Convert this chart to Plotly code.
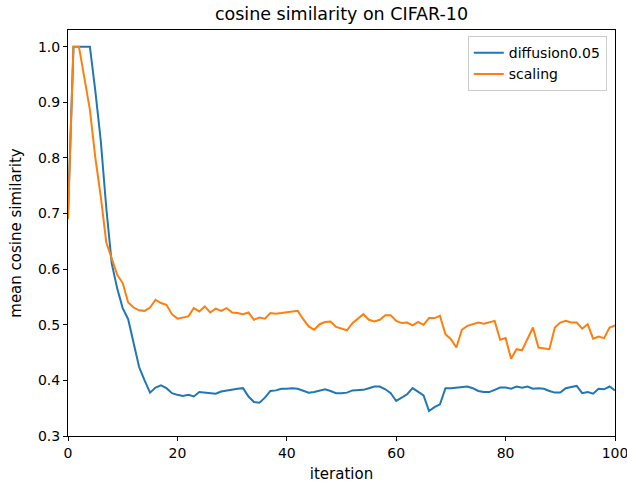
import plotly.graph_objects as go

iterations = list(range(101))

diffusion = [
    0.70, 1.0, 1.0, 1.0, 1.0, 0.92, 0.83, 0.71, 0.61, 0.565,
    0.53, 0.51, 0.468, 0.424, 0.400, 0.378, 0.387, 0.391, 0.386, 0.377,
    0.374, 0.372, 0.374, 0.371, 0.379, 0.378, 0.377, 0.376, 0.380, 0.382,
    0.383, 0.385, 0.386, 0.371, 0.361, 0.360, 0.369, 0.381, 0.382, 0.385,
    0.385, 0.386, 0.385, 0.381, 0.378, 0.379, 0.381, 0.384, 0.381, 0.377,
    0.377, 0.378, 0.382, 0.382, 0.383, 0.386, 0.389, 0.389, 0.384, 0.377,
    0.363, 0.369, 0.375, 0.386, 0.379, 0.373, 0.345, 0.352, 0.357, 0.386,
    0.386, 0.387, 0.389, 0.389, 0.386, 0.381, 0.379, 0.379, 0.383, 0.387,
    0.387, 0.385, 0.389, 0.387, 0.389, 0.385, 0.386, 0.385, 0.381, 0.378,
    0.378, 0.386, 0.388, 0.390, 0.377, 0.379, 0.376, 0.385, 0.384, 0.389,
    0.382,
]

scaling = [
    0.69, 1.0, 1.0, 0.94, 0.887, 0.80, 0.73, 0.648, 0.62, 0.59,
    0.575, 0.54, 0.531, 0.526, 0.525, 0.531, 0.545, 0.539, 0.536, 0.519,
    0.511, 0.513, 0.515, 0.530, 0.524, 0.533, 0.522, 0.529, 0.525, 0.530,
    0.522, 0.521, 0.519, 0.522, 0.509, 0.513, 0.511, 0.521, 0.520, 0.521,
    0.522, 0.524, 0.525, 0.510, 0.497, 0.491, 0.501, 0.505, 0.506, 0.496,
    0.493, 0.490, 0.503, 0.511, 0.519, 0.509, 0.506, 0.509, 0.517, 0.517,
    0.507, 0.503, 0.504, 0.499, 0.505, 0.500, 0.512, 0.512, 0.516, 0.483,
    0.474, 0.459, 0.491, 0.498, 0.501, 0.504, 0.502, 0.504, 0.507, 0.473,
    0.476, 0.439, 0.456, 0.454, 0.474, 0.495, 0.459, 0.458, 0.456, 0.495,
    0.504, 0.507, 0.504, 0.504, 0.493, 0.501, 0.475, 0.479, 0.476, 0.495,
    0.499,
]

series_names = ["diffusion0.05", "scaling"]
colors = ["#1f77b4", "#ff7f0e"]
x_ticks = [0, 20, 40, 60, 80, 100]
y_ticks = [0.3, 0.4, 0.5, 0.6, 0.7, 0.8, 0.9, 1.0]

fig = go.Figure()
for name, vals, col in zip(series_names, [diffusion, scaling], colors):
    fig.add_trace(go.Scatter(x=iterations, y=vals, mode="lines", name=name,
                             line=dict(color=col, width=2)))

axis_common = dict(
    showgrid=False, zeroline=False, showline=True, linecolor="black",
    linewidth=1, mirror=True, ticks="outside", ticklen=4, tickcolor="black",
    tickfont=dict(family="DejaVu Sans", size=14, color="black"),
    automargin=False, ticklabeloverflow="allow",
)

fig.update_layout(
    width=627, height=483,
    margin=dict(l=68, r=12, t=30, b=47),
    paper_bgcolor="white", plot_bgcolor="white",
    font=dict(family="DejaVu Sans", color="black"),
    title=dict(text="cosine similarity on CIFAR-10", xref="paper", x=0.5, xanchor="center",
               y=0.972, yanchor="middle", font=dict(size=17.5, family="DejaVu Sans")),
    xaxis=dict(range=[0, 100], tickvals=x_ticks, ticktext=[str(t) for t in x_ticks],
               title=dict(text="iteration", font=dict(size=15), standoff=8), **axis_common),
    yaxis=dict(range=[0.3, 1.03], tickvals=y_ticks, ticktext=[f"{t:.1f}" for t in y_ticks],
               title=dict(text="mean cosine similarity", font=dict(size=15), standoff=12), **axis_common),
    legend=dict(x=0.985, xanchor="right", y=0.985, yanchor="top",
                bgcolor="white", bordercolor="#cccccc", borderwidth=1,
                font=dict(size=14, family="DejaVu Sans")),
    showlegend=True,
)

fig.write_html("out.html")
